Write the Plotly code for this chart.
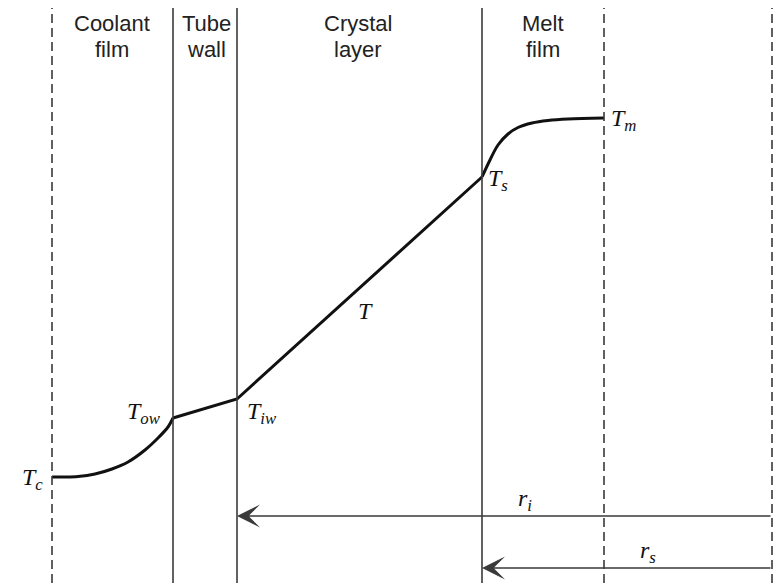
import plotly.graph_objects as go

# Radial positions of the layer boundaries (arbitrary length units)
boundary_names = ["coolant_edge", "wall_outer", "wall_inner", "crystal_surface", "melt_edge", "tube_axis"]
boundary_pos = [52, 173, 237, 482, 604, 772]
boundary_dashed = [True, False, False, False, True, True]

# Layer headings
layer_titles = [("Coolant", "film"), ("Tube", "wall"), ("Crystal", "layer"), ("Melt", "film")]
layer_centers = [112, 206, 358, 543]

# Temperature profile (arbitrary temperature units)
coolant_r = [52, 65, 78, 95, 112, 128, 145, 158, 168, 173]
coolant_T = [106, 106, 106.5, 109, 114, 121, 133, 145, 156, 165]
solid_r = [173, 237, 482]
solid_T = [165, 184, 406]
melt_r = [482, 490, 498, 508, 518, 532, 548, 568, 604]
melt_T = [406, 423, 438, 449, 455.5, 460, 462.5, 464, 465]

# Radius arrows
radius_labels = ["r<sub>i</sub>", "r<sub>s</sub>"]
radius_from = [772, 772]
radius_to = [237, 482]
radius_level = [67, 15]

W, H = 773, 583
SANS = "Liberation Sans, Arial, sans-serif"
SERIF = "Liberation Serif, Times New Roman, serif"
INK = "#111111"
RULE = "#3a3a3a"

fig = go.Figure()

# Profile
fig.add_trace(go.Scatter(x=coolant_r, y=coolant_T, mode="lines",
                         line=dict(color=INK, width=3, shape="spline", smoothing=0.9),
                         hoverinfo="skip"))
fig.add_trace(go.Scatter(x=solid_r, y=solid_T, mode="lines",
                         line=dict(color=INK, width=3), hoverinfo="skip"))
fig.add_trace(go.Scatter(x=melt_r, y=melt_T, mode="lines",
                         line=dict(color=INK, width=3, shape="spline", smoothing=1.0),
                         hoverinfo="skip"))

# Layer boundaries
shapes = []
for xb, dashed in zip(boundary_pos, boundary_dashed):
    shapes.append(dict(type="line", xref="x", yref="paper", x0=xb, x1=xb,
                       y0=0, y1=1 - 8 / H,
                       line=dict(color=RULE, width=1.6,
                                 dash="9px,5px" if dashed else "solid")))

annotations = []

# Headings (two lines each)
for (l1, l2), xc in zip(layer_titles, layer_centers):
    for txt, ypix in ((l1, 23), (l2, 49)):
        annotations.append(dict(x=xc, y=H - ypix, xref="x", yref="y", text=txt,
                                showarrow=False, xanchor="center", yanchor="middle",
                                borderpad=0,
                                font=dict(family=SANS, size=22, color="#222222")))

# Temperature labels
temp_labels = [
    ("<i>T<sub>c</sub></i>", 45, 104, "right"),
    ("<i>T<sub>ow</sub></i>", 163, 170, "right"),
    ("<i>T<sub>iw</sub></i>", 245, 170, "left"),
    ("<i>T<sub>s</sub></i>", 486, 403, "left"),
    ("<i>T<sub>m</sub></i>", 609, 463, "left"),
    ("<i>T</i>", 365, 272, "center"),
]
for txt, xl, yl, anchor in temp_labels:
    annotations.append(dict(x=xl, y=yl, xref="x", yref="y", text=txt,
                            showarrow=False, xanchor=anchor, yanchor="middle",
                            font=dict(family=SERIF, size=24, color=INK)))

# Radius arrows and their labels
label_x = [525, 648]
for lab, x0, x1, lev, lx in zip(radius_labels, radius_from, radius_to, radius_level, label_x):
    annotations.append(dict(x=x1, y=lev, ax=x0, ay=lev, xref="x", yref="y",
                            axref="x", ayref="y", text="", showarrow=True,
                            arrowhead=3, arrowsize=2.4, arrowwidth=1.6,
                            arrowcolor=RULE, standoff=0, startstandoff=0))
    annotations.append(dict(x=lx, y=lev + 16, xref="x", yref="y",
                            text="<i>" + lab + "</i>", showarrow=False,
                            xanchor="center", yanchor="middle",
                            font=dict(family=SERIF, size=24, color=INK)))

fig.update_layout(
    width=W, height=H,
    margin=dict(l=0, r=0, t=0, b=0),
    paper_bgcolor="white", plot_bgcolor="white",
    showlegend=False,
    xaxis=dict(range=[0, W], visible=False, fixedrange=True),
    yaxis=dict(range=[0, H], visible=False, fixedrange=True),
    shapes=shapes,
    annotations=annotations,
)

fig.write_html("out.html")
